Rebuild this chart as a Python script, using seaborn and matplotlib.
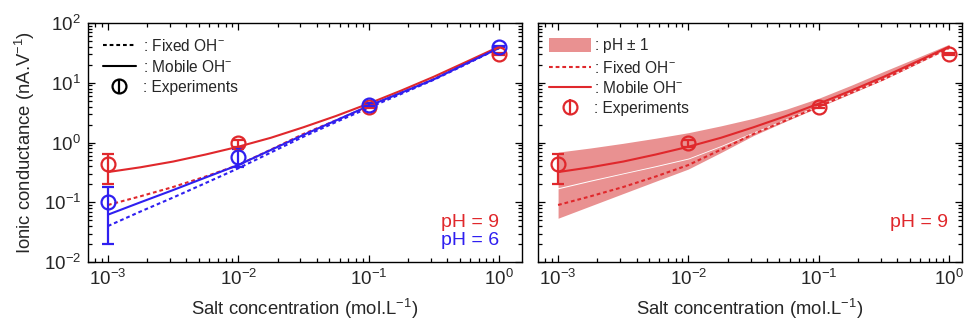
import numpy as np
import pandas as pd
import matplotlib
matplotlib.use("Agg")
import matplotlib.pyplot as plt
import seaborn as sns
from matplotlib.lines import Line2D
from matplotlib.patches import Patch

# ---------------- data ----------------
# salt concentration (mol/L), quarter-decade reading grid
conc_curve = [1e-3, 10**-2.75, 10**-2.5, 10**-2.25, 1e-2, 10**-1.75, 10**-1.5,
              10**-1.25, 1e-1, 10**-0.75, 10**-0.5, 10**-0.25, 1.0]
mobile_ph9 = [0.32, 0.385, 0.48, 0.63, 0.85, 1.2, 1.8, 2.78, 4.47, 7.4, 12.6, 22.4, 40.0]
fixed_ph9 = [0.09, 0.126, 0.18, 0.27, 0.42, 0.76, 1.39, 2.35, 4.0, 6.8, 11.5, 21.0, 38.0]
mobile_ph6 = [0.062, 0.10, 0.16, 0.26, 0.42, 0.75, 1.34, 2.34, 4.1, 6.8, 11.4, 21.0, 38.0]
fixed_ph6 = [0.04, 0.07, 0.12, 0.21, 0.37, 0.68, 1.25, 2.2, 3.8, 6.5, 11.2, 20.5, 38.0]

# pH +/- 1 envelopes (right panel)
mobile_band_hi = [0.69, 0.81, 0.97, 1.18, 1.46, 1.9, 2.54, 3.6, 5.5, 9.1, 15.5, 26.0, 44.0]
mobile_band_lo = [0.175, 0.235, 0.31, 0.41, 0.55, 0.89, 1.5, 2.5, 4.2, 7.1, 12.0, 21.5, 38.5]
fixed_band_hi = [0.168, 0.226, 0.30, 0.395, 0.53, 0.86, 1.45, 2.42, 4.05, 6.9, 11.6, 21.0, 37.5]
fixed_band_lo = [0.054, 0.087, 0.14, 0.225, 0.36, 0.68, 1.31, 2.28, 3.9, 6.6, 11.3, 20.5, 37.5]

conc_exp = [1e-3, 1e-2, 1e-1, 1.0]
exp_ph9 = [0.43, 0.97, 4.0, 30.0]
exp_ph9_lo = [0.20, 0.85, 3.8, 29.0]
exp_ph9_hi = [0.65, 1.12, 4.2, 31.0]
exp_ph6 = [0.10, 0.58, 4.3, 40.0]
exp_ph6_lo = [0.02, 0.39, 4.1, 39.0]
exp_ph6_hi = [0.18, 0.78, 4.5, 41.0]

xtick_vals = [1e-3, 1e-2, 1e-1, 1e0]
xtick_labels = [r"$10^{-3}$", r"$10^{-2}$", r"$10^{-1}$", r"$10^{0}$"]
ytick_vals = [1e-2, 1e-1, 1e0, 1e1, 1e2]
ytick_labels = [r"$10^{-2}$", r"$10^{-1}$", r"$10^{0}$", r"$10^{1}$", r"$10^{2}$"]

# ---------------- style ----------------
sns.set_theme(style="ticks")
plt.rcParams["font.family"] = ["Liberation Sans", "DejaVu Sans"]
plt.rcParams["mathtext.fontset"] = "custom"
plt.rcParams["mathtext.rm"] = "Liberation Sans"
plt.rcParams["mathtext.it"] = "Liberation Sans:italic"
plt.rcParams["mathtext.bf"] = "Liberation Sans:bold"

RED = "#e0282c"
BLUE = "#2f1ff0"
BAND = "#e99191"
DOT = (0, (1.8, 1.4))
FS_TICK = 13.5
FS_LABEL = 13.3
FS_LEG = 11.2

fig = plt.figure(figsize=(9.64, 3.22), dpi=100)
ax1 = fig.add_axes([0.0913, 0.1863, 0.4502, 0.7423])
ax2 = fig.add_axes([0.5581, 0.1863, 0.4399, 0.7423])

curves = pd.DataFrame({
    "c": conc_curve,
    "m9": mobile_ph9, "f9": fixed_ph9, "m6": mobile_ph6, "f6": fixed_ph6,
})


def style_axes(ax, xr, show_ylabels):
    ax.set_xscale("log")
    ax.set_yscale("log")
    ax.set_xlim(*xr)
    ax.set_ylim(1e-2, 1e2)
    ax.tick_params(which="both", direction="in", top=True, right=True,
                   labelsize=FS_TICK, width=0.9, color="black")
    ax.tick_params(which="major", length=5, pad=5)
    ax.tick_params(which="minor", length=2.8)
    for s in ax.spines.values():
        s.set_linewidth(1.0)
        s.set_color("black")
    ax.set_xticks(xtick_vals)
    ax.set_xticklabels(xtick_labels)
    ax.set_xlabel(r"Salt concentration (mol.L$^{-1}$)", fontsize=FS_LABEL, labelpad=6)
    ax.set_yticks(ytick_vals)
    if show_ylabels:
        ax.set_yticklabels(ytick_labels)
        ax.set_ylabel(r"Ionic conductance (nA.V$^{-1}$)", fontsize=FS_LABEL, labelpad=5)
    else:
        ax.set_yticklabels([])
        ax.set_ylabel("")


lw = 1.5
EB = dict(fmt="o", mfc="none", ms=10, mew=1.6, elinewidth=1.6, capsize=4.5, capthick=1.6)


def errbar(ax, y, lo, hi, color):
    y = np.array(y); lo = np.array(lo); hi = np.array(hi)
    return ax.errorbar(conc_exp, y, yerr=[y - lo, hi - y], mec=color, ecolor=color,
                       color=color, **EB)


# ---------- left panel ----------
sns.lineplot(data=curves, x="c", y="f9", ax=ax1, color=RED, lw=lw, linestyle=DOT)
sns.lineplot(data=curves, x="c", y="m9", ax=ax1, color=RED, lw=lw)
sns.lineplot(data=curves, x="c", y="f6", ax=ax1, color=BLUE, lw=lw, linestyle=DOT)
sns.lineplot(data=curves, x="c", y="m6", ax=ax1, color=BLUE, lw=lw)
errbar(ax1, exp_ph9, exp_ph9_lo, exp_ph9_hi, RED)
errbar(ax1, exp_ph6, exp_ph6_lo, exp_ph6_hi, BLUE)

style_axes(ax1, (10**-3.153, 10**0.177), True)

h_fixed = Line2D([], [], color="black", lw=lw, linestyle=DOT)
h_mob = Line2D([], [], color="black", lw=lw)
h_exp = ax1.errorbar([], [], yerr=[], mec="black", ecolor="black", color="black", **EB)
ax1.legend([h_fixed, h_mob, h_exp],
           [r": Fixed OH$^{-}$", r": Mobile OH$^{-}$", ": Experiments"],
           loc="upper left", frameon=False, fontsize=FS_LEG, handlelength=2.1,
           handletextpad=0.45, labelspacing=0.33, borderaxespad=0.0,
           bbox_to_anchor=(0.02, 0.965))

ax1.text(0.947, 0.167, "pH = 9", color=RED, fontsize=14, ha="right", va="center",
         transform=ax1.transAxes)
ax1.text(0.947, 0.092, "pH = 6", color=BLUE, fontsize=14, ha="right", va="center",
         transform=ax1.transAxes)

# ---------- right panel ----------
ax2.fill_between(conc_curve, mobile_band_lo, mobile_band_hi, color=BAND, lw=0)
ax2.fill_between(conc_curve, fixed_band_lo, fixed_band_hi, color=BAND, lw=0)
sns.lineplot(data=curves, x="c", y="f9", ax=ax2, color=RED, lw=lw, linestyle=DOT)
sns.lineplot(data=curves, x="c", y="m9", ax=ax2, color=RED, lw=lw)
errbar(ax2, exp_ph9, exp_ph9_lo, exp_ph9_hi, RED)

style_axes(ax2, (10**-3.154, 10**0.10), False)

h_band = Patch(facecolor=BAND, edgecolor="none")
h_fixed2 = Line2D([], [], color=RED, lw=lw, linestyle=DOT)
h_mob2 = Line2D([], [], color=RED, lw=lw)
h_exp2 = ax2.errorbar([], [], yerr=[], mec=RED, ecolor=RED, color=RED, **EB)
ax2.legend([h_band, h_fixed2, h_mob2, h_exp2],
           [r": pH $\pm$ 1", r": Fixed OH$^{-}$", r": Mobile OH$^{-}$", ": Experiments"],
           loc="upper left", frameon=False, fontsize=FS_LEG, handlelength=2.7,
           handleheight=1.0, handletextpad=0.15, labelspacing=0.28, borderaxespad=0.0,
           bbox_to_anchor=(0.012, 0.97))

ax2.text(0.967, 0.167, "pH = 9", color=RED, fontsize=14, ha="right", va="center",
         transform=ax2.transAxes)

fig.savefig("out.png", dpi=100)
